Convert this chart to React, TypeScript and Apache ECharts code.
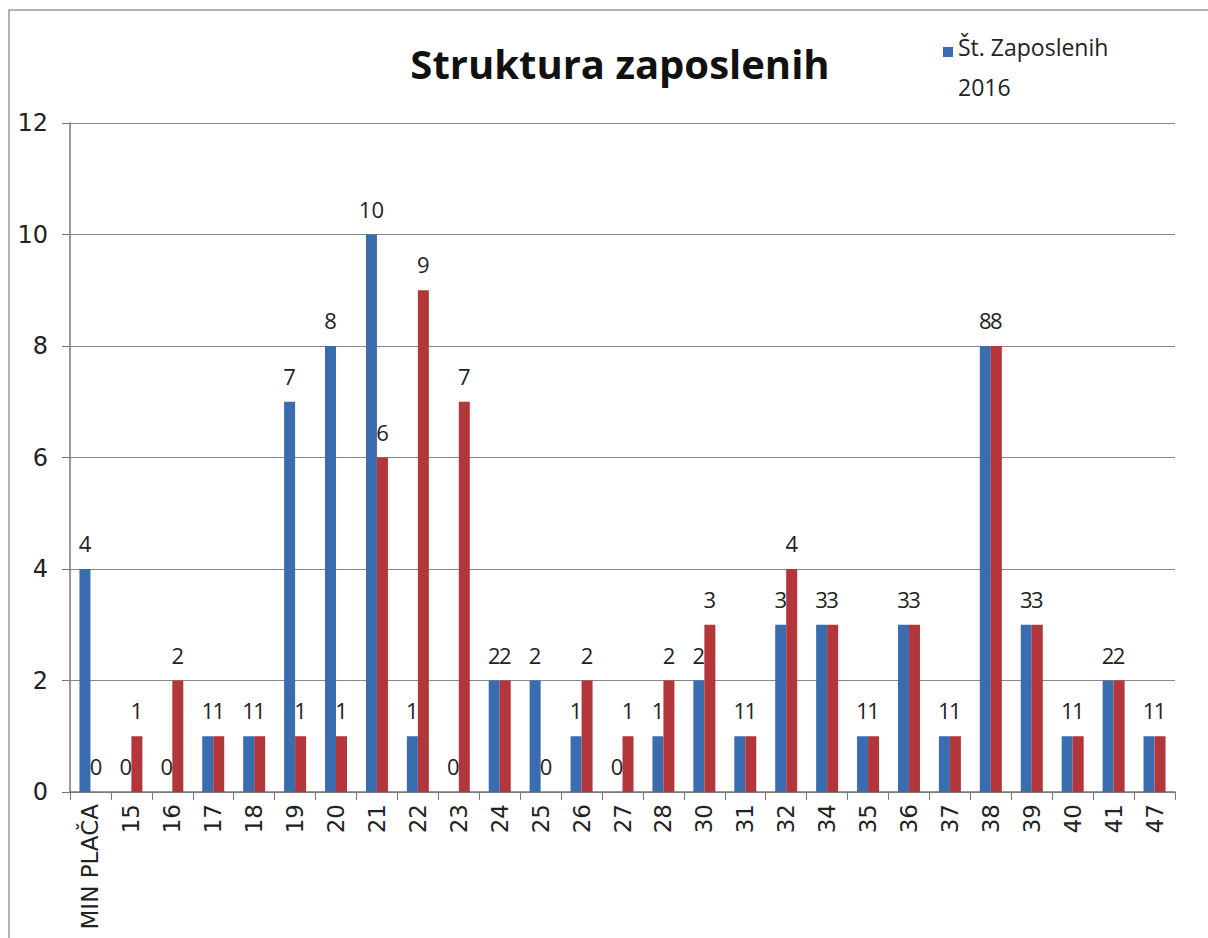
import React, { useEffect, useRef } from "react";
import * as echarts from "echarts";

const categories = ["MIN PLAČA", "15", "16", "17", "18", "19", "20", "21", "22", "23", "24", "25", "26", "27", "28", "30", "31", "32", "34", "35", "36", "37", "38", "39", "40", "41", "47"];
const series2016 = [4, 0, 0, 1, 1, 7, 8, 10, 1, 0, 2, 2, 1, 0, 1, 2, 1, 3, 3, 1, 3, 1, 8, 3, 1, 2, 1];
const seriesOther = [0, 1, 2, 1, 1, 1, 1, 6, 9, 7, 2, 0, 2, 1, 2, 3, 1, 4, 3, 1, 3, 1, 8, 3, 1, 2, 1];
const seriesNames = ["Št. Zaposlenih\n2016", "Št. Zaposlenih 2017"];
const yTicks = { min: 0, max: 12, interval: 2 };
const titleText = "Struktura zaposlenih";

export default function App() {
  const ref = useRef<HTMLDivElement>(null);
  useEffect(() => {
    if (!ref.current) return;
    const chart = echarts.init(ref.current, undefined, { renderer: "svg" });
    const labelStyle = {
      show: true,
      position: "top" as const,
      distance: 15,
      fontSize: 22,
      color: "#222",
      fontFamily: "Open Sans",
    };
    chart.setOption({
      animation: false,
      backgroundColor: "#fff",
      title: {
        text: titleText,
        left: 615,
        textAlign: "center",
        top: 38,
        textStyle: { fontSize: 40, fontWeight: "bold", color: "#111", fontFamily: "Open Sans" },
      },
      legend: {
        data: [seriesNames[0]],
        left: 938,
        top: 22,
        itemWidth: 10,
        itemHeight: 40,
        itemGap: 5,
        textStyle: { fontSize: 23, color: "#222", fontFamily: "Open Sans", lineHeight: 40 },
        icon: "path://M0,0h10v10h-10zM0,40h0.01v0.01h-0.01z",
      },
      graphic: [
        {
          type: "rect",
          shape: { x: 9, y: 10, width: 1250, height: 1000 },
          style: { fill: "none", stroke: "#999", lineWidth: 1.5 },
          silent: true,
        },
      ],
      grid: { left: 70, right: 33, top: 123, bottom: 146 },
      xAxis: {
        type: "category",
        data: categories,
        axisLine: { show: true, lineStyle: { color: "#777", width: 1.5 } },
        axisTick: { show: true, alignWithLabel: false, length: 8, lineStyle: { color: "#777" } },
        axisLabel: { rotate: 90, fontSize: 23, color: "#222", fontFamily: "'DejaVu Sans', Verdana, sans-serif", margin: 12, interval: 0 },
      },
      yAxis: {
        type: "value",
        min: yTicks.min,
        max: yTicks.max,
        interval: yTicks.interval,
        axisLine: { show: true, lineStyle: { color: "#777", width: 1.5 } },
        axisTick: { show: true, length: 8, lineStyle: { color: "#777" } },
        axisLabel: { fontSize: 24, color: "#222", fontFamily: "'DejaVu Sans', Verdana, sans-serif", margin: 22 },
        splitLine: { show: true, lineStyle: { color: "#888", width: 1 } },
      },
      series: [
        {
          name: seriesNames[0],
          type: "bar",
          data: series2016,
          barWidth: 11,
          barGap: "0%",
          itemStyle: { color: "#3A6CB0" },
          label: labelStyle,
        },
        {
          name: seriesNames[1],
          type: "bar",
          data: seriesOther,
          barWidth: 11,
          barGap: "0%",
          itemStyle: { color: "#B3363A" },
          label: labelStyle,
        },
      ],
    });
    return () => chart.dispose();
  }, []);
  return <div ref={ref} style={{ position: "absolute", left: 0, top: 0, width: 1208, height: 938 }} />;
}
